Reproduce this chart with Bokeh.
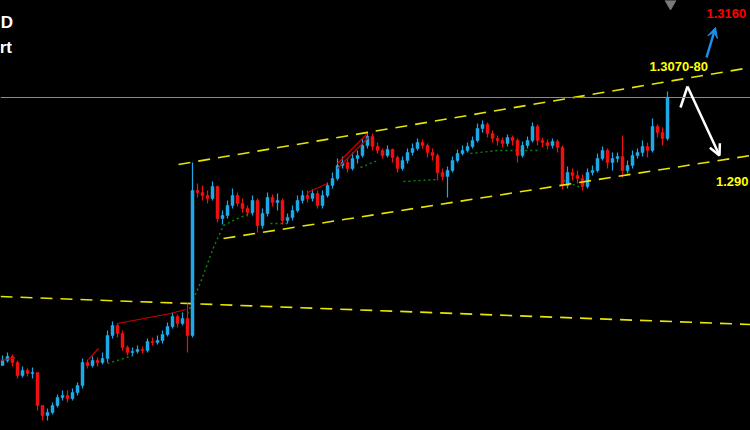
from bokeh.plotting import figure
from bokeh.models import Range1d, Span, Arrow, VeeHead, OpenHead
from bokeh.core.properties import value
from bokeh.embed import file_html
from bokeh.resources import INLINE

# ---------------- data (price bars) ----------------
first_open = 1.23875
close = [1.2400, 1.2410, 1.2395, 1.23625, 1.2375, 1.23675, 1.2370, 1.22875, 1.22625, 1.2270,
         1.22875, 1.23075, 1.23125, 1.2305, 1.2320, 1.23375, 1.2395, 1.23875, 1.2400, 1.2395,
         1.2405, 1.24625, 1.24875, 1.24675, 1.24325, 1.2420, 1.24225, 1.24275, 1.2425, 1.24475,
         1.2445, 1.2450, 1.2465, 1.2485, 1.2510, 1.24925, 1.2505, 1.24625, 1.2825, 1.2820,
         1.28125, 1.2805, 1.2835, 1.2755, 1.27625, 1.27875, 1.28125, 1.27925, 1.2780, 1.2770,
         1.2800, 1.27375, 1.27675, 1.28075, 1.2795, 1.2800, 1.2750, 1.27575, 1.2775, 1.2800,
         1.28125, 1.2805, 1.28175, 1.27875, 1.28125, 1.28375, 1.2855, 1.28875, 1.2895, 1.2880,
         1.2905, 1.29125, 1.29375, 1.2960, 1.2935, 1.2925, 1.29125, 1.29275, 1.29075, 1.2880,
         1.2900, 1.2920, 1.2930, 1.2945, 1.29375, 1.2920, 1.29125, 1.2870, 1.2860, 1.2875,
         1.2900, 1.29175, 1.2925, 1.2935, 1.2950, 1.2980, 1.2990, 1.29675, 1.2955, 1.2950,
         1.29425, 1.29575, 1.2950, 1.29125, 1.29375, 1.2950, 1.2985, 1.2950, 1.2945, 1.29375,
         1.29475, 1.29325, 1.28375, 1.2870, 1.28625, 1.2855, 1.2835, 1.2870, 1.2875, 1.2905,
         1.2925, 1.2895, 1.2905, 1.2910, 1.2875, 1.28875, 1.29125, 1.2920, 1.2935, 1.2925,
         1.2985, 1.2970, 1.2955, 1.30575]
high = [1.24125, 1.2420, 1.2415, 1.2400, 1.2385, 1.2380, 1.23825, 1.2370, 1.22875, 1.2280,
        1.2295, 1.2315, 1.2325, 1.2325, 1.2330, 1.2345, 1.2405, 1.24025, 1.2410, 1.24075,
        1.2420, 1.2475, 1.24975, 1.24925, 1.2475, 1.24375, 1.24325, 1.24375, 1.2435, 1.2455,
        1.24575, 1.24625, 1.2475, 1.2495, 1.2520, 1.2515, 1.2520, 1.25425, 1.2895, 1.28425,
        1.28375, 1.2825, 1.28475, 1.28375, 1.2775, 1.2800, 1.2830, 1.2820, 1.2805, 1.27875,
        1.28125, 1.2805, 1.2780, 1.2820, 1.2815, 1.28175, 1.2805, 1.27675, 1.27875, 1.28125,
        1.2825, 1.2825, 1.28275, 1.2825, 1.2825, 1.2845, 1.2870, 1.2905, 1.2910, 1.2905,
        1.2920, 1.2925, 1.2955, 1.29725, 1.29675, 1.2945, 1.2930, 1.29375, 1.2930, 1.29125,
        1.2910, 1.2930, 1.29425, 1.2955, 1.29525, 1.29425, 1.2930, 1.29175, 1.2880, 1.2885,
        1.2910, 1.29275, 1.29375, 1.2945, 1.2960, 1.29925, 1.3000, 1.2995, 1.2975, 1.29625,
        1.29575, 1.2965, 1.29625, 1.2955, 1.29475, 1.2960, 1.2995, 1.2990, 1.29575, 1.29525,
        1.2955, 1.29525, 1.29375, 1.2885, 1.2880, 1.2875, 1.2865, 1.2880, 1.28875, 1.29175,
        1.2935, 1.2930, 1.2920, 1.2920, 1.29625, 1.2900, 1.2925, 1.2930, 1.2950, 1.2945,
        1.3005, 1.2990, 1.29825, 1.30725]
low = [1.23875, 1.2395, 1.2385, 1.2355, 1.23575, 1.2360, 1.2355, 1.2275, 1.2250, 1.2250,
       1.2265, 1.22825, 1.2300, 1.2295, 1.2300, 1.23125, 1.2330, 1.2380, 1.23825, 1.2385,
       1.2390, 1.2395, 1.2455, 1.24575, 1.2425, 1.24125, 1.24125, 1.24175, 1.24175, 1.2420,
       1.24375, 1.2440, 1.24425, 1.2460, 1.2480, 1.24825, 1.24875, 1.2420, 1.24575, 1.28075,
       1.2800, 1.27925, 1.2800, 1.2745, 1.2740, 1.2755, 1.2780, 1.2785, 1.2770, 1.2760,
       1.27625, 1.2720, 1.2730, 1.2760, 1.2785, 1.2775, 1.2740, 1.27425, 1.2750, 1.2770,
       1.27925, 1.2795, 1.27975, 1.2780, 1.2780, 1.28075, 1.2830, 1.2850, 1.2880, 1.2870,
       1.2875, 1.28925, 1.29075, 1.2930, 1.2925, 1.29175, 1.2905, 1.29075, 1.2895, 1.2870,
       1.2875, 1.28925, 1.29125, 1.2925, 1.2930, 1.29075, 1.2900, 1.2850, 1.2850, 1.28075,
       1.2870, 1.2895, 1.29125, 1.2920, 1.2930, 1.2945, 1.2970, 1.29575, 1.2945, 1.29375,
       1.29325, 1.2935, 1.29375, 1.2895, 1.29075, 1.2930, 1.2945, 1.29375, 1.29325, 1.29275,
       1.2930, 1.2920, 1.28275, 1.2830, 1.2850, 1.28425, 1.2825, 1.2830, 1.28625, 1.2870,
       1.2900, 1.2880, 1.2875, 1.2895, 1.28575, 1.28675, 1.2880, 1.2905, 1.2910, 1.29075,
       1.2920, 1.29575, 1.29375, 1.2950]

# channel / trend lines (bar index, price)
upper_x = [35.2, 149.6]
upper_y = [1.2890, 1.31325]
lower_x = [44.2, 149.6]
lower_y = [1.2705, 1.29125]
long_x = [-0.4, 149.6]
long_y = [1.2560, 1.2490]
current_price = 1.30575

green_xs = [[21.0, 26.2], [37.0, 39.6, 42.2, 44.2, 47.0, 50.0], [53.6, 57.2], [71.6, 75.0],
            [80.2, 87.0], [93.6, 99.0, 107.6], [112.2, 115.6]]
green_ys = [[1.23925, 1.24125], [1.25175, 1.2595, 1.26825, 1.27375, 1.2755, 1.2770],
            [1.27425, 1.27425], [1.28825, 1.2900], [1.28475, 1.28525],
            [1.29175, 1.2925, 1.2925], [1.2850, 1.28325]]
red_xs = [[-0.4, 2.6], [17.2, 19.2], [23.0, 33.6, 36.6], [61.0, 65.0], [67.0, 73.0], [67.0, 73.2]]
red_ys = [[1.2400, 1.24075], [1.24025, 1.2430], [1.24925, 1.25175, 1.25275], [1.2820, 1.28425],
          [1.28925, 1.29675], [1.2880, 1.29575]]

# forecast arrows
white_path_x = [135.6, 137.0]
white_path_y = [1.30325, 1.3085]
white_arrow = (137.0, 1.3085, 143.4, 1.29125)
blue_arrow = (140.8, 1.31575, 142.6, 1.32325)

# labels
label_text = ["1.3160", "1.3070-80", "1.290"]
label_x = [140.8, 129.4, 142.7]
label_y = [1.32675, 1.3135, 1.28475]
label_color = ["#ff0000", "#ffff00", "#ffff00"]
title_text = ["D", "rt"]
title_x = [2.1, 1.9]
title_y = [1.3245, 1.31825]
marker_x = [133.6]
marker_y = [1.32925]

# ---------------- figure ----------------
W, H = 750, 430
p = figure(width=W, height=H, output_backend="svg", toolbar_location=None,
           x_range=Range1d(-0.4, 149.6), y_range=Range1d(1.2225, 1.3300),
           background_fill_color="#000000", border_fill_color="#000000",
           min_border=0, outline_line_color=None)
p.axis.visible = False
p.grid.visible = False

UP = "#1ea8e8"
DN = "#ee1111"

n = len(close)
idx = list(range(n))
opens = [first_open] + close[:-1]
cols = [UP if c >= o else DN for o, c in zip(opens, close)]
tops = [max(o, c) for o, c in zip(opens, close)]
bots = [min(o, c) for o, c in zip(opens, close)]

# reference lines under the bars
p.add_layout(Span(location=current_price, dimension="width", line_color="#8a8a8a", line_width=1.2))
p.line(long_x, long_y, line_color="#e6e600", line_width=1.6, line_dash="12 8")
p.multi_line(green_xs, green_ys, line_color="#0a8a0a", line_width=1.4, line_dash="2 3")

p.segment(idx, high, idx, low, line_color=cols, line_width=1.2)
p.vbar(x=idx, top=tops, bottom=bots, width=0.6, fill_color=cols, line_color=cols, line_width=0.5)

p.multi_line(red_xs, red_ys, line_color="#d00000", line_width=1.2)
p.line(upper_x, upper_y, line_color="#e6e600", line_width=1.6, line_dash="12 8")
p.line(lower_x, lower_y, line_color="#e6e600", line_width=1.6, line_dash="12 8")

# arrows
p.line(white_path_x, white_path_y, line_color="#ffffff", line_width=2.5)
p.add_layout(Arrow(x_start=white_arrow[0], y_start=white_arrow[1], x_end=white_arrow[2], y_end=white_arrow[3],
                   line_color="#ffffff", line_width=2.5,
                   end=OpenHead(size=11, line_color="#ffffff", line_width=2.5)))
p.add_layout(Arrow(x_start=blue_arrow[0], y_start=blue_arrow[1], x_end=blue_arrow[2], y_end=blue_arrow[3],
                   line_color="#1e90e8", line_width=2.5,
                   end=VeeHead(size=10, fill_color="#1e90e8", line_color="#1e90e8")))

p.inverted_triangle(marker_x, marker_y, size=11, fill_color="#7a7a7a", line_color="#7a7a7a")

p.text(label_x, label_y, text=label_text, text_color=label_color, text_font=value("Liberation Sans"),
       text_font_style="bold", text_font_size="13px", text_baseline="middle", text_align="left")
p.text(title_x, title_y, text=title_text, text_color="#ffffff", text_font=value("Liberation Sans"),
       text_font_style="bold", text_font_size="17px", text_baseline="middle", text_align="right")

html = file_html(p, INLINE)
html = html.replace("</head>", "<style>html,body{background:#000000;}</style></head>", 1)
open("out.html", "w").write(html)
